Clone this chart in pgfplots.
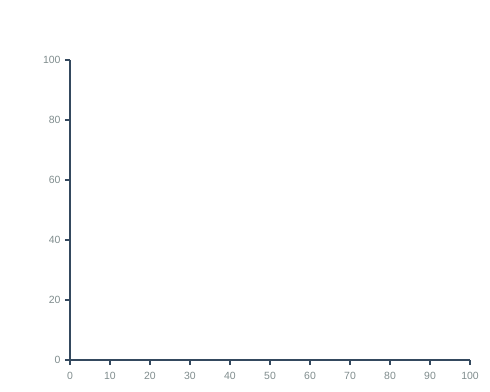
\documentclass[border=0pt]{standalone}
\usepackage{fontspec}
\setmainfont{Liberation Sans}
\usepackage{pgfplots}
\pgfplotsset{compat=1.18}
\definecolor{axcol}{RGB}{52,73,94}
\definecolor{lblcol}{RGB}{127,140,141}
\begin{document}
\begin{tikzpicture}
\useasboundingbox (-70bp,-32bp) rectangle (420bp,360bp);
\begin{axis}[
  at={(0,0)}, anchor=origin,
  scale only axis, width=400bp, height=300bp,
  xmin=0, xmax=100, ymin=0, ymax=100,
  axis x line=bottom, axis y line=left,
  axis line style={-, axcol, line width=1.4bp},
  xtick={0,10,...,100}, ytick={0,20,...,100},
  tick align=outside, major tick length=5bp,
  tick style={axcol, line width=1.2bp},
  ticklabel style={font=\fontsize{10.5}{12}\selectfont, text=lblcol},
  /pgf/number format/assume math mode=true,
  xticklabel style={yshift=-3.5bp},
  yticklabel style={xshift=-1bp},
]
\addplot[draw=none] coordinates {(0,0)};
\end{axis}
\end{tikzpicture}
\end{document}
